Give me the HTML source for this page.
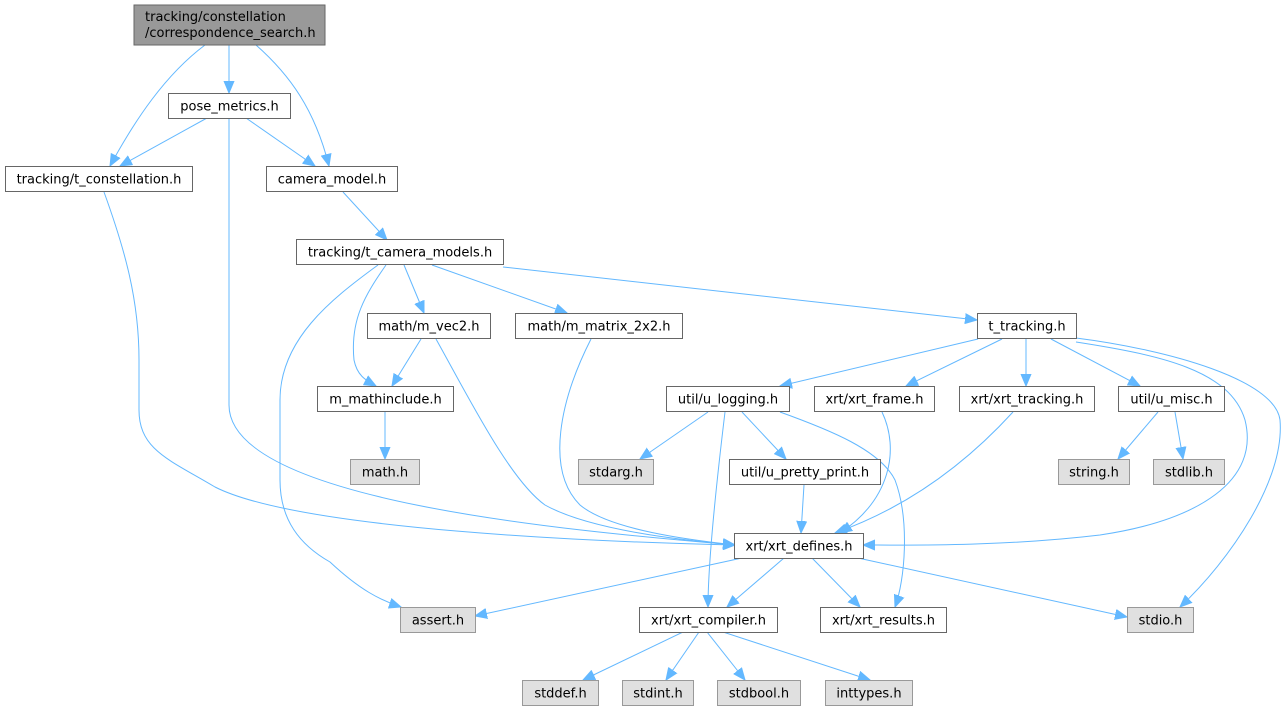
<!DOCTYPE html>
<html><head><meta charset="utf-8"><style>
html,body{margin:0;padding:0;background:#fff;}
svg{display:block;}
text{font-family:"DejaVu Sans","Liberation Sans",sans-serif;font-size:13px;fill:#000;}
.n{fill:#fff;stroke:#666;stroke-width:1;}
.g{fill:#e0e0e0;stroke:#999;stroke-width:1;}
.e{fill:none;stroke:#63b8ff;stroke-width:1;}
</style></head><body>
<svg width="1282" height="711" viewBox="0 0 1282 711" xmlns="http://www.w3.org/2000/svg">
<defs>
<marker id="a" markerUnits="userSpaceOnUse" markerWidth="13" markerHeight="11" refX="12" refY="5.5" orient="auto">
<path d="M0,0.5 L12,5.5 L0,10.5 Z" fill="#63b8ff" stroke="#63b8ff" stroke-width="1"/>
</marker>
</defs>
<g marker-end="url(#a)">
<path class="e" d="M205,45 C165,75 135,120 110,166"/>
<path class="e" d="M229,45 L229,93"/>
<path class="e" d="M256,45 C290,75 315,110 329,166"/>
<path class="e" d="M207,118 L120,166"/>
<path class="e" d="M246,118 L315,166"/>
<path class="e" d="M229,118 L229,405 C229,500 560,530 735,545"/>
<path class="e" d="M104,192 C125,250 139,300 139,360 L139,410 C139,450 170,460 215,487 C300,530 600,542 735,545"/>
<path class="e" d="M343,192 L387,240"/>
<path class="e" d="M378,265 C330,300 280,340 280,400 L280,480 C280,520 300,545 330,562 C360,590 380,600 401,607"/>
<path class="e" d="M386,265 C365,295 350,320 354,360 C357,375 365,380 376,386"/>
<path class="e" d="M404,265 L424,313"/>
<path class="e" d="M432,265 L567,313"/>
<path class="e" d="M503,267 L977,320"/>
<path class="e" d="M421,339 L392,386"/>
<path class="e" d="M436,339 C470,400 510,480 545,505 C590,530 680,540 735,545"/>
<path class="e" d="M591,339 C560,400 545,470 580,505 C610,530 690,540 735,545"/>
<path class="e" d="M385,412 L385,459"/>
<path class="e" d="M978,339 L780,386"/>
<path class="e" d="M1002,339 L906,386"/>
<path class="e" d="M1026,339 L1026,386"/>
<path class="e" d="M1051,339 L1140,386"/>
<path class="e" d="M1076,342 C1160,355 1230,370 1245,420 C1260,480 1200,520 1100,535 C1000,547 900,545 863,545"/>
<path class="e" d="M1076,338 C1170,350 1275,380 1280,420 C1285,480 1230,560 1180,607"/>
<path class="e" d="M708,412 L640,459"/>
<path class="e" d="M742,412 L786,459"/>
<path class="e" d="M725,412 C718,470 708,560 708,607"/>
<path class="e" d="M780,412 C830,430 880,450 895,480 C910,520 905,580 895,607"/>
<path class="e" d="M882,412 C900,450 890,500 840,533"/>
<path class="e" d="M1013,412 C960,470 900,510 835,533"/>
<path class="e" d="M1158,412 L1118,459"/>
<path class="e" d="M1175,412 L1183,459"/>
<path class="e" d="M804,485 L801,533"/>
<path class="e" d="M742,558 L475,616"/>
<path class="e" d="M784,558 L727,607"/>
<path class="e" d="M812,558 L860,607"/>
<path class="e" d="M858,558 L1127,617"/>
<path class="e" d="M683,632 L583,680"/>
<path class="e" d="M699,632 L666,680"/>
<path class="e" d="M707,632 L745,680"/>
<path class="e" d="M723,632 L870,680"/>
</g>
<rect x="134" y="5" width="191" height="40" fill="#999" stroke="#666"/>
<text x="145" y="21">tracking/constellation</text>
<text x="145" y="37">/correspondence_search.h</text>

<rect class="n" x="168.5" y="93.5" width="122" height="25"/><text x="229.5" y="110.5" text-anchor="middle">pose_metrics.h</text>
<rect class="n" x="5.5" y="166.5" width="187" height="25"/><text x="99" y="183.5" text-anchor="middle">tracking/t_constellation.h</text>
<rect class="n" x="266.5" y="166.5" width="131" height="25"/><text x="332" y="183.5" text-anchor="middle">camera_model.h</text>
<rect class="n" x="296.5" y="239.5" width="207" height="25"/><text x="400" y="256.5" text-anchor="middle">tracking/t_camera_models.h</text>
<rect class="n" x="367.5" y="313.5" width="123" height="25"/><text x="429" y="330.5" text-anchor="middle">math/m_vec2.h</text>
<rect class="n" x="515.5" y="313.5" width="167" height="25"/><text x="599" y="330.5" text-anchor="middle">math/m_matrix_2x2.h</text>
<rect class="n" x="977.5" y="313.5" width="99" height="25"/><text x="1027" y="330.5" text-anchor="middle">t_tracking.h</text>
<rect class="n" x="317.5" y="386.5" width="136" height="25"/><text x="385.5" y="403.5" text-anchor="middle">m_mathinclude.h</text>
<rect class="g" x="350.5" y="459.5" width="69" height="25"/><text x="385" y="476.5" text-anchor="middle">math.h</text>
<rect class="n" x="666.5" y="386.5" width="123" height="25"/><text x="728" y="403.5" text-anchor="middle">util/u_logging.h</text>
<rect class="n" x="814.5" y="386.5" width="120" height="25"/><text x="874.5" y="403.5" text-anchor="middle">xrt/xrt_frame.h</text>
<rect class="n" x="959.5" y="386.5" width="135" height="25"/><text x="1027" y="403.5" text-anchor="middle">xrt/xrt_tracking.h</text>
<rect class="n" x="1118.5" y="386.5" width="106" height="25"/><text x="1171.5" y="403.5" text-anchor="middle">util/u_misc.h</text>
<rect class="g" x="578.5" y="459.5" width="75" height="25"/><text x="616" y="476.5" text-anchor="middle">stdarg.h</text>
<rect class="n" x="729.5" y="459.5" width="151" height="25"/><text x="805" y="476.5" text-anchor="middle">util/u_pretty_print.h</text>
<rect class="g" x="1058.5" y="459.5" width="71" height="25"/><text x="1094" y="476.5" text-anchor="middle">string.h</text>
<rect class="g" x="1153.5" y="459.5" width="71" height="25"/><text x="1189" y="476.5" text-anchor="middle">stdlib.h</text>
<rect class="n" x="734.5" y="533.5" width="129" height="25"/><text x="799" y="550.5" text-anchor="middle">xrt/xrt_defines.h</text>
<rect class="g" x="400.5" y="607.5" width="75" height="25"/><text x="438" y="624.5" text-anchor="middle">assert.h</text>
<rect class="n" x="639.5" y="607.5" width="138" height="25"/><text x="708.5" y="624.5" text-anchor="middle">xrt/xrt_compiler.h</text>
<rect class="n" x="820.5" y="607.5" width="126" height="25"/><text x="883.5" y="624.5" text-anchor="middle">xrt/xrt_results.h</text>
<rect class="g" x="1127.5" y="607.5" width="66" height="25"/><text x="1160.5" y="624.5" text-anchor="middle">stdio.h</text>
<rect class="g" x="522.5" y="680.5" width="76" height="25"/><text x="560.5" y="697.5" text-anchor="middle">stddef.h</text>
<rect class="g" x="622.5" y="680.5" width="71" height="25"/><text x="658" y="697.5" text-anchor="middle">stdint.h</text>
<rect class="g" x="717.5" y="680.5" width="83" height="25"/><text x="759" y="697.5" text-anchor="middle">stdbool.h</text>
<rect class="g" x="825.5" y="680.5" width="87" height="25"/><text x="869" y="697.5" text-anchor="middle">inttypes.h</text>
</svg>
</body></html>
